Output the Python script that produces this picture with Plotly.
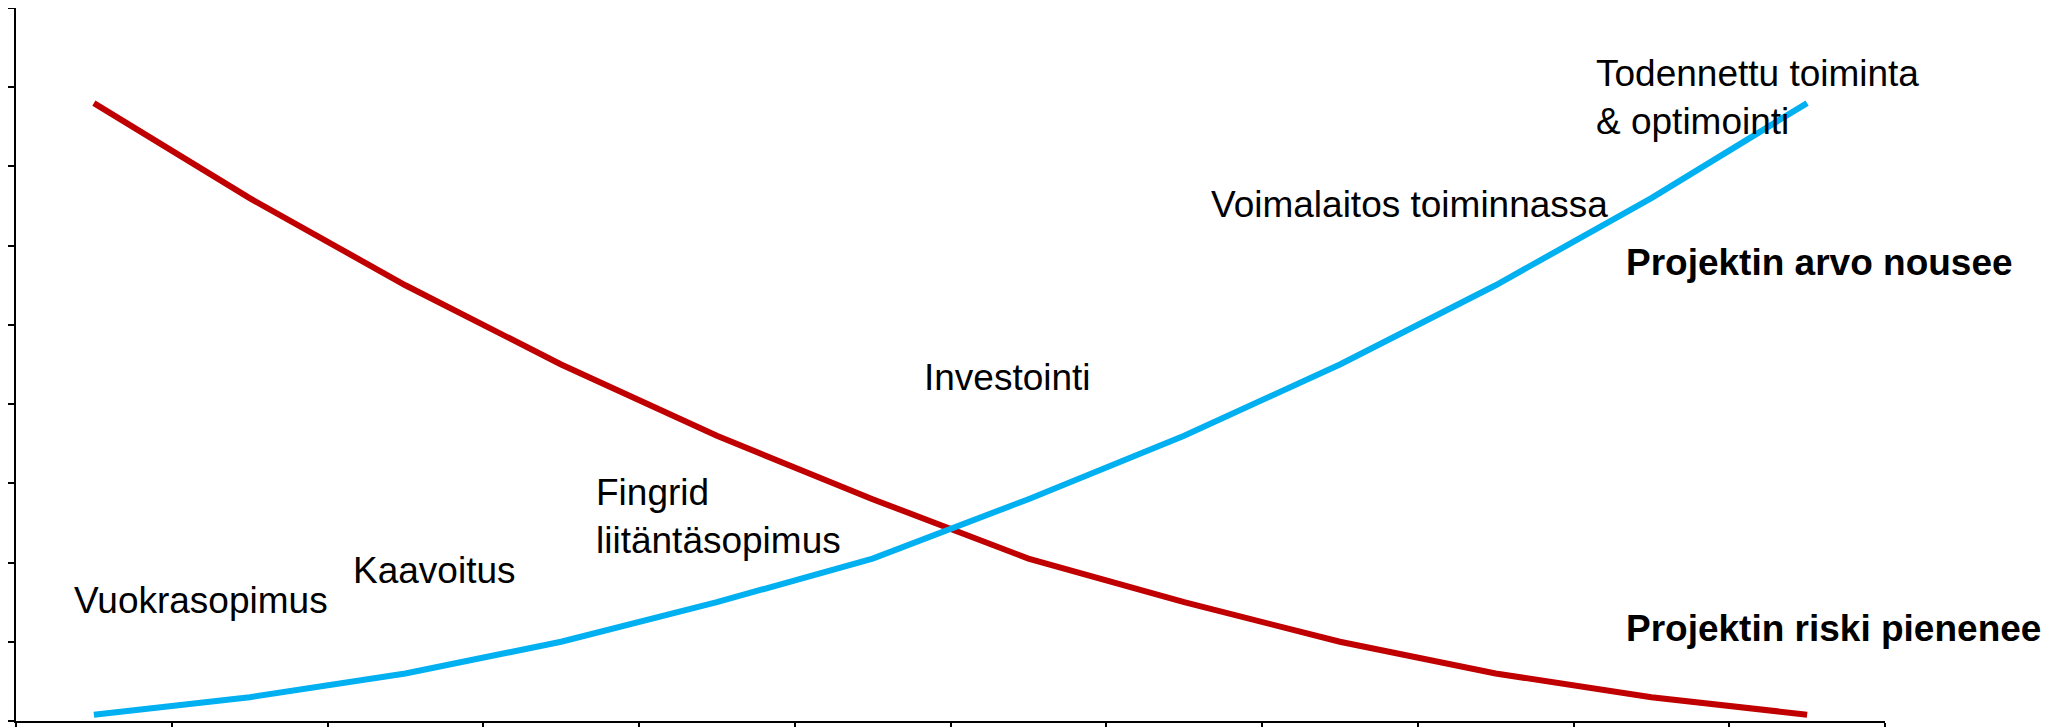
import plotly.graph_objects as go

# ---- data ----
stages = [str(i) for i in range(1, 13)]
risk = [7.8, 6.6, 5.5, 4.5, 3.6, 2.8, 2.05, 1.5, 1.0, 0.6, 0.3, 0.08]
value = [0.08, 0.3, 0.6, 1.0, 1.5, 2.05, 2.8, 3.6, 4.5, 5.5, 6.6, 7.8]

labels = ["Vuokrasopimus", "Kaavoitus", "Fingrid<br>liitäntäsopimus", "Investointi",
          "Voimalaitos toiminnassa", "Todennettu toiminta<br>& optimointi"]
series_labels = ["Projektin arvo nousee", "Projektin riski pienenee"]

# ---- layout geometry (screen pixels; page body has an 8px margin) ----
OFF = 8
W, H = 2054, 727
L, R, T, B = 16 - OFF, 1885 - OFF, 8 - OFF, 721 - OFF
ASC = 8  # gap between text box top and cap top


def px(x, y):
    x, y = x - OFF, y - OFF
    return (x - L) / (R - L), (B - (y - ASC)) / (B - T)


FONT = "Liberation Sans, Arial, sans-serif"
RED = "#C00000"
BLUE = "#00B0F0"

fig = go.Figure()
fig.add_trace(go.Scatter(x=stages, y=risk, mode="lines",
                         line=dict(color=RED, width=6), hoverinfo="skip"))
fig.add_trace(go.Scatter(x=stages, y=value, mode="lines",
                         line=dict(color=BLUE, width=6), hoverinfo="skip"))

# label positions: left edge x, cap-top y (screen pixels)
label_pos = [(73, 587), (352, 557), (595, 479), (923, 364), (1210, 191), (1595, 60)]
for txt, (x, y) in zip(labels, label_pos):
    ax, ay = px(x, y)
    fig.add_annotation(text=txt, x=ax, y=ay, xref="paper", yref="paper",
                       xanchor="left", yanchor="top", align="left", showarrow=False,
                       font=dict(family=FONT, size=37, color="black"), borderpad=0)

bold_pos = [(1625, 249), (1625, 615)]
for txt, (x, y) in zip(series_labels, bold_pos):
    ax, ay = px(x, y)
    fig.add_annotation(text="<b>" + txt + "</b>", x=ax, y=ay, xref="paper", yref="paper",
                       xanchor="left", yanchor="top", align="left", showarrow=False,
                       font=dict(family=FONT, size=37, color="black"), borderpad=0)

axis_style = dict(ticks="outside", ticklen=9, tickwidth=2, tickcolor="black",
                  showticklabels=False, showline=True, linewidth=2, linecolor="black",
                  showgrid=False, zeroline=False, automargin=False)

fig.update_layout(
    width=W, height=H,
    margin=dict(l=L, r=W - R, t=T, b=H - B, pad=0, autoexpand=False),
    paper_bgcolor="white", plot_bgcolor="white",
    showlegend=False,
    xaxis=dict(type="category", range=[-0.5, 11.5], tickson="boundaries", **axis_style),
    yaxis=dict(range=[0, 9], dtick=1, tick0=0, **axis_style),
)

fig.write_html("out.html")
